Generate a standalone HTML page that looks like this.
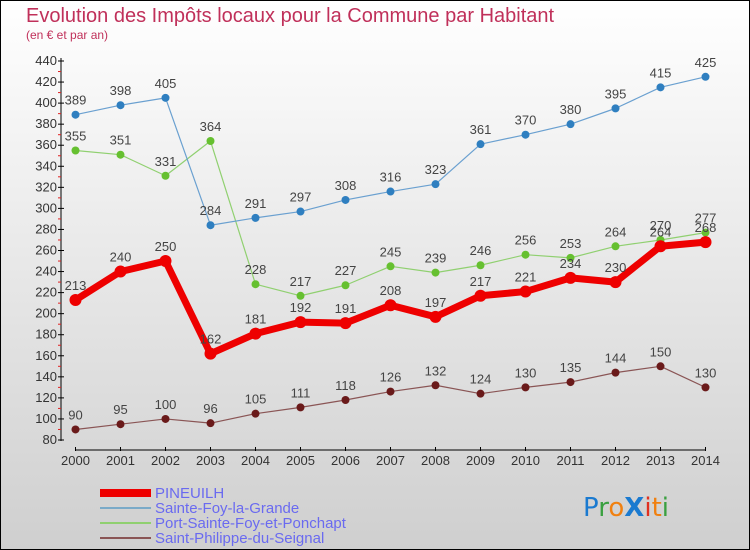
<!DOCTYPE html>
<html><head><meta charset="utf-8"><style>
body{margin:0}
#c{width:750px;height:550px;position:relative;overflow:hidden;font-family:"Liberation Sans","DejaVu Sans",sans-serif}
</style></head><body>
<div id="c">
<svg id="s" width="750" height="550" xmlns="http://www.w3.org/2000/svg">
<defs><linearGradient id="bg" x1="0" y1="0" x2="0" y2="1"><stop offset="0" stop-color="#ffffff"/><stop offset="1" stop-color="#cfcfcf"/></linearGradient></defs>
<rect x="0.5" y="0.5" width="749" height="549" fill="url(#bg)" stroke="#000"/>
<text x="26" y="22" font-size="20" fill="#c0305a">Evolution des Impôts locaux pour la Commune par Habitant</text>
<text x="26" y="39" font-size="12" fill="#c0305a">(en € et par an)</text>
<g id="axes"></g><g id="series"></g>
<g>
<rect x="100" y="489" width="51" height="8" fill="#ee0000"/>
<rect x="100" y="507" width="51" height="2" fill="#7aaac8"/>
<rect x="100" y="522" width="51" height="2" fill="#90d070"/>
<rect x="100" y="537" width="51" height="2" fill="#8a5555"/>
<g font-size="15" fill="#6a6af0">
<text x="155" y="498">PINEUILH</text>
<text x="155" y="513">Sainte-Foy-la-Grande</text>
<text x="155" y="528">Port-Sainte-Foy-et-Ponchapt</text>
<text x="155" y="543">Saint-Philippe-du-Seignal</text>
</g></g>
<g font-size="26" font-family="'DejaVu Sans',sans-serif">
<text x="583" y="516"><tspan fill="#1a7ad0">P</tspan><tspan fill="#3aa040">r</tspan><tspan fill="#f08010">o</tspan><tspan fill="#1a7ad0" font-weight="bold">X</tspan><tspan fill="#e03020">i</tspan><tspan fill="#f08010">t</tspan><tspan fill="#3aa040">i</tspan></text>
</g>
</svg>
</div>
<script>
const years=[2000,2001,2002,2003,2004,2005,2006,2007,2008,2009,2010,2011,2012,2013,2014];
const yTicks=[80,100,120,140,160,180,200,220,240,260,280,300,320,340,360,380,400,420,440];
const pineuilh=[213,240,250,162,181,192,191,208,197,217,221,234,230,264,268];
const sainteFoy=[389,398,405,284,291,297,308,316,323,361,370,380,395,415,425];
const portSainteFoy=[355,351,331,364,228,217,227,245,239,246,256,253,264,270,277];
const saintPhilippe=[90,95,100,96,105,111,118,126,132,124,130,135,144,150,130];
const NS="http://www.w3.org/2000/svg";
const xS=i=>75.5+i*45;
const yS=v=>440-(v-80)*379/360;
function mk(p,t,a){const e=document.createElementNS(NS,t);for(const k in a)e.setAttribute(k,a[k]);p.appendChild(e);return e;}
const ax=document.getElementById('axes');
let e=mk(ax,'line',{x1:61,y1:58,x2:61,y2:441,stroke:'#000'});


e=mk(ax,'line',{x1:75,y1:450,x2:706,y2:450,stroke:'#000'});


yTicks.forEach(v=>{const y=yS(v);
mk(ax,'line',{x1:58,y1:y,x2:64,y2:y,stroke:'#000'});
if(v<440)mk(ax,'line',{x1:58,y1:yS(v+10),x2:61,y2:yS(v+10),stroke:'#e02020'});
const t=mk(ax,'text',{x:57,y:y+4,'font-size':13,'text-anchor':'end',fill:'#333'});t.textContent=v;

});
years.forEach((yr,i)=>{const x=xS(i);
mk(ax,'line',{x1:x,y1:447,x2:x,y2:451,stroke:'#000'});
const t=mk(ax,'text',{x:x,y:465,'font-size':13,'text-anchor':'middle',fill:'#333'});t.textContent=yr;

});
const sg=document.getElementById('series');
function draw(data,color,dot,w,r,name){
const g=mk(sg,'g',{});


mk(g,'polyline',{points:data.map((v,i)=>xS(i)+','+yS(v)).join(' '),fill:'none',stroke:color,'stroke-width':w,'stroke-linejoin':'round'});
data.forEach((v,i)=>{const c=mk(g,'circle',{cx:xS(i),cy:yS(v),r:r,fill:dot});


const t=mk(g,'text',{x:xS(i),y:yS(v)-10,'font-size':13,'text-anchor':'middle',fill:'#444'});t.textContent=v;

});}
draw(saintPhilippe,'#8a5555','#6a1a1a',1.2,4,'series-saint-philippe');
draw(portSainteFoy,'#90d070','#66c030',1.2,4,'series-port-sainte-foy');
draw(sainteFoy,'#6aa0d0','#2f7fc0',1.2,4,'series-sainte-foy');
draw(pineuilh,'#ee0000','#ee0000',7,6,'series-pineuilh');
</script>
</body></html>
